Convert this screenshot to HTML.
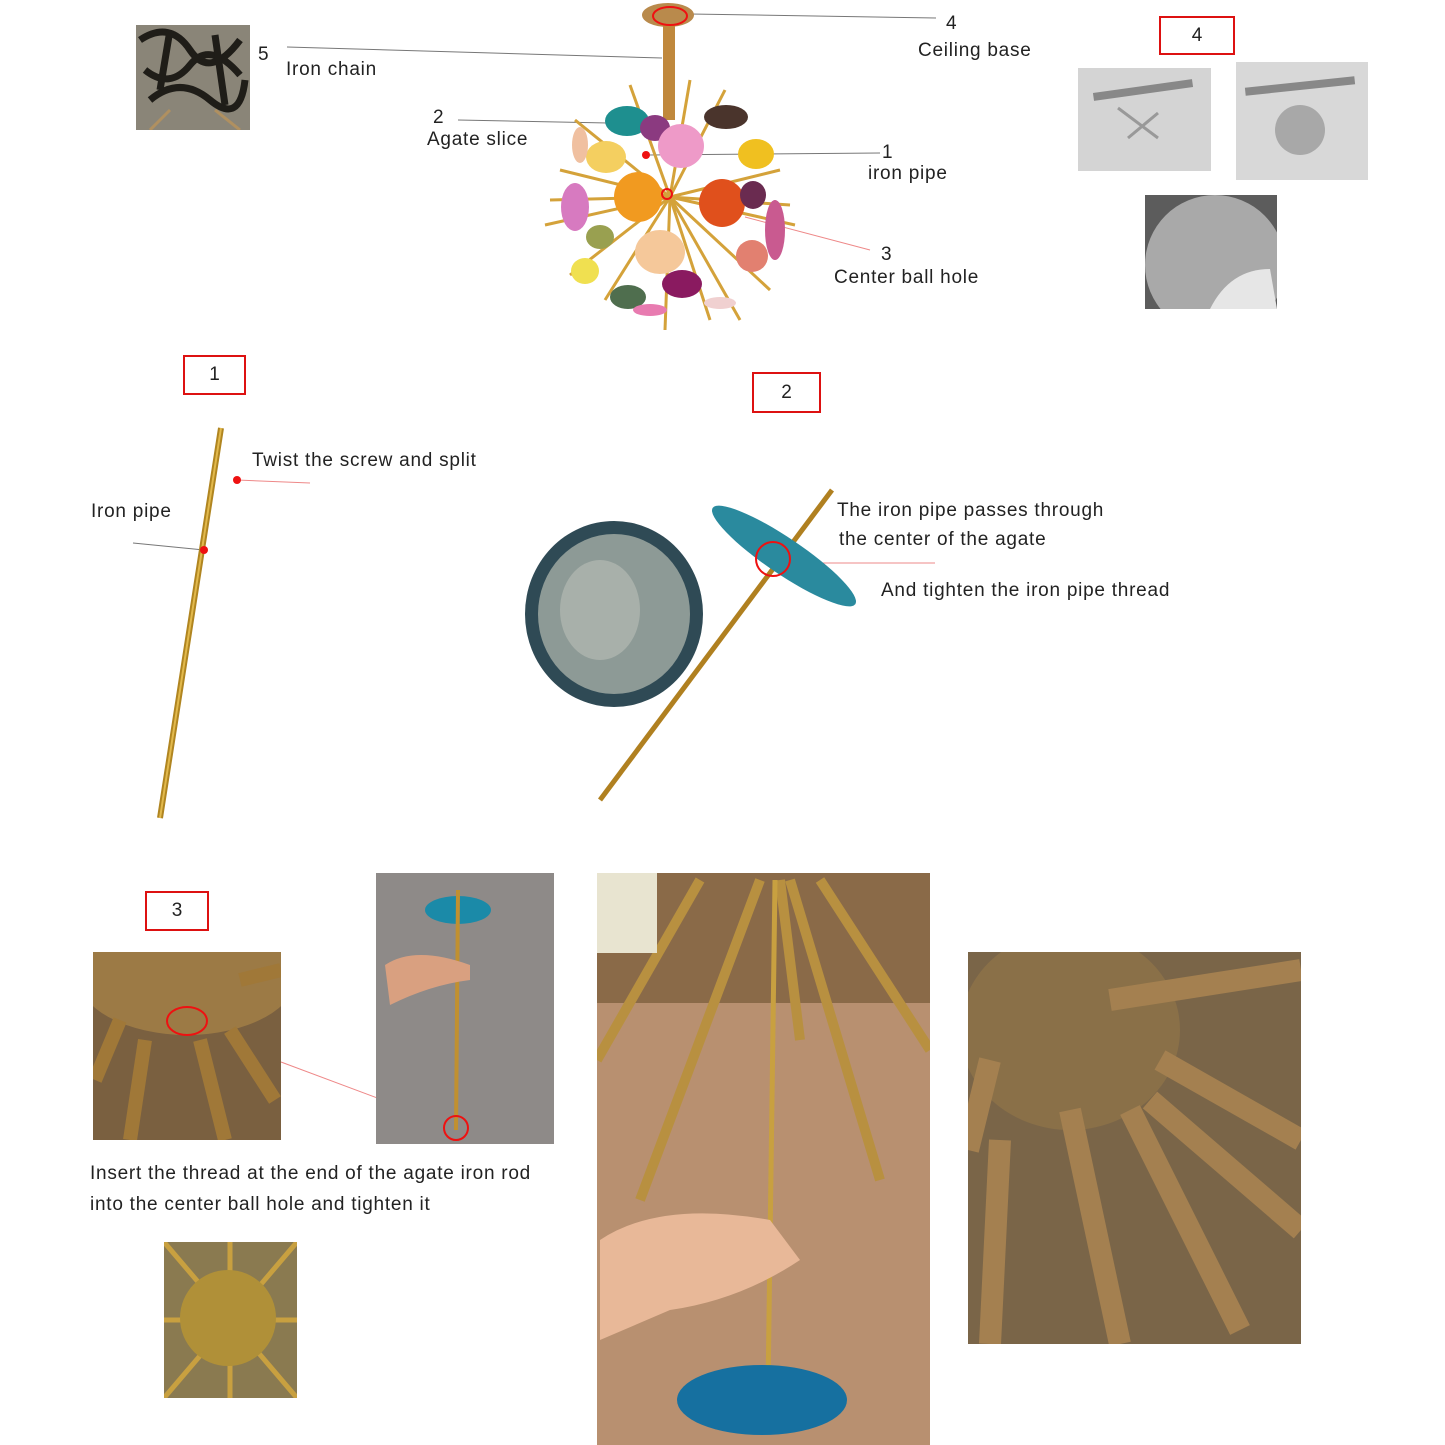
<!DOCTYPE html>
<html><head><meta charset="utf-8"><style>
html,body{margin:0;padding:0;background:#fff}
body{width:1445px;height:1445px;position:relative;overflow:hidden;font-family:"Liberation Sans",sans-serif;color:#222}
.t{position:absolute;font-size:19px;white-space:nowrap;line-height:1;letter-spacing:0.75px}
.box{position:absolute;border:2px solid #d11;font-size:19px;text-align:center;box-sizing:border-box;display:flex;align-items:center;justify-content:center}
svg svg{overflow:hidden}
</style></head><body>
<svg width="1445" height="1445" style="position:absolute;left:0;top:0">
<!-- chain photo -->
<svg x="136" y="25" width="114" height="105">
<rect width="114" height="105" fill="#8a8578"/>
<g stroke="#1f1d18" stroke-width="7" fill="none">
<path d="M4 15 q30 -20 50 10 t50 -10"/><path d="M9 45 q25 20 45 -5 t50 10"/><path d="M14 75 q30 -25 60 0 t35 -20"/><path d="M34 5 l-10 60"/><path d="M79 10 l10 70"/>
</g>
<g stroke="#b09060" stroke-width="3"><line x1="34" y1="85" x2="14" y2="105"/><line x1="79" y1="85" x2="104" y2="105"/></g>
</svg>
<!-- connector lines -->
<g stroke="#777" stroke-width="1">
<line x1="287" y1="47" x2="662" y2="58"/>
<line x1="458" y1="120" x2="608" y2="123"/>
<line x1="690" y1="14" x2="936" y2="18"/>
<line x1="648" y1="155" x2="880" y2="153"/>
<line x1="133" y1="543" x2="204" y2="550"/>
</g>
<g stroke="#e88" stroke-width="1">
<line x1="745" y1="217" x2="870" y2="250"/>
<line x1="237" y1="480" x2="310" y2="483"/>
<line x1="773" y1="563" x2="935" y2="563"/>
<line x1="281" y1="1062" x2="455" y2="1127"/>
</g>
<!-- chandelier -->
<ellipse cx="668" cy="15" rx="26" ry="12" fill="#b98a4c"/>
<rect x="663" y="25" width="12" height="95" fill="#c0883c"/>
<g stroke="#d4a23a" stroke-width="3">
<line x1="670" y1="197" x2="560" y2="170"/><line x1="670" y1="197" x2="780" y2="170"/><line x1="670" y1="197" x2="545" y2="225"/><line x1="670" y1="197" x2="795" y2="225"/>
<line x1="670" y1="197" x2="630" y2="85"/><line x1="670" y1="197" x2="725" y2="90"/><line x1="670" y1="197" x2="605" y2="300"/><line x1="670" y1="197" x2="740" y2="320"/>
<line x1="670" y1="197" x2="575" y2="120"/><line x1="670" y1="197" x2="770" y2="290"/><line x1="670" y1="197" x2="570" y2="275"/><line x1="670" y1="197" x2="665" y2="330"/>
<line x1="670" y1="197" x2="550" y2="200"/><line x1="670" y1="197" x2="790" y2="205"/><line x1="670" y1="197" x2="690" y2="80"/><line x1="670" y1="197" x2="710" y2="320"/>
</g>
<g>
<ellipse cx="627" cy="121" rx="22" ry="15" fill="#1e8f8f"/><ellipse cx="655" cy="128" rx="15" ry="13" fill="#8b3a80"/>
<ellipse cx="681" cy="146" rx="23" ry="22" fill="#ee9ac8"/><ellipse cx="726" cy="117" rx="22" ry="12" fill="#4a342c"/>
<ellipse cx="606" cy="157" rx="20" ry="16" fill="#f4cf60"/><ellipse cx="756" cy="154" rx="18" ry="15" fill="#f0c020"/>
<ellipse cx="638" cy="197" rx="24" ry="25" fill="#f19a20"/><ellipse cx="722" cy="203" rx="23" ry="24" fill="#e0501c"/>
<ellipse cx="753" cy="195" rx="13" ry="14" fill="#6a2b50"/><ellipse cx="575" cy="207" rx="14" ry="24" fill="#d77ac0"/>
<ellipse cx="775" cy="230" rx="10" ry="30" fill="#c95a90"/><ellipse cx="600" cy="237" rx="14" ry="12" fill="#99a050"/>
<ellipse cx="660" cy="252" rx="25" ry="22" fill="#f5c89a"/><ellipse cx="752" cy="256" rx="16" ry="16" fill="#e28070"/>
<ellipse cx="585" cy="271" rx="14" ry="13" fill="#f0e050"/><ellipse cx="682" cy="284" rx="20" ry="14" fill="#8a1a60"/>
<ellipse cx="628" cy="297" rx="18" ry="12" fill="#4f6e4e"/><ellipse cx="650" cy="310" rx="17" ry="6" fill="#e87bb0"/>
<ellipse cx="720" cy="303" rx="16" ry="6" fill="#f0d0d0"/><ellipse cx="580" cy="145" rx="8" ry="18" fill="#f0c0a0"/>
<circle cx="667" cy="194" r="5" fill="none" stroke="#e11" stroke-width="2"/><circle cx="646" cy="155" r="4" fill="#e11"/>
<ellipse cx="670" cy="16" rx="17" ry="9" fill="none" stroke="#e11" stroke-width="2"/>
</g>
<!-- section 4 photos -->
<svg x="1078" y="68" width="133" height="103"><rect width="133" height="103" fill="#d4d4d4"/>
<rect x="15" y="18" width="100" height="8" fill="#888" transform="rotate(-8 65 22)"/>
<g stroke="#999" stroke-width="3"><line x1="40" y1="40" x2="80" y2="70"/><line x1="50" y1="70" x2="80" y2="45"/></g></svg>
<svg x="1236" y="62" width="132" height="118"><rect width="132" height="118" fill="#d8d8d8"/>
<rect x="9" y="20" width="110" height="8" fill="#888" transform="rotate(-6 64 24)"/>
<circle cx="64" cy="68" r="25" fill="#a8a8a8"/></svg>
<svg x="1145" y="195" width="132" height="114"><rect width="132" height="114" fill="#5c5c5c"/>
<circle cx="70" cy="70" r="70" fill="#a9a9a9"/>
<path d="M65 114 q20 -40 60 -40 l7 40z" fill="#e6e6e6"/></svg>
<!-- pipe 1 -->
<line x1="221" y1="428" x2="160" y2="818" stroke="#b08520" stroke-width="6"/>
<line x1="221" y1="428" x2="160" y2="818" stroke="#e2b94c" stroke-width="2"/>
<circle cx="237" cy="480" r="4" fill="#e11"/><circle cx="204" cy="550" r="4" fill="#e11"/>
<!-- section 2 -->
<ellipse cx="614" cy="614" rx="89" ry="93" fill="#2f4a55"/>
<ellipse cx="614" cy="614" rx="76" ry="80" fill="#8d9a96"/>
<ellipse cx="600" cy="610" rx="40" ry="50" fill="#a8b0aa"/>
<line x1="832" y1="490" x2="600" y2="800" stroke="#b08020" stroke-width="5"/>
<ellipse cx="784" cy="556" rx="86" ry="18" transform="rotate(34 784 556)" fill="#2a8a9e"/>
<circle cx="773" cy="559" r="17" fill="none" stroke="#e11" stroke-width="2"/>
<!-- section 3 photos -->
<svg x="93" y="952" width="188" height="188"><rect width="188" height="188" fill="#7a6040"/>
<ellipse cx="94" cy="23" rx="110" ry="60" fill="#9c7a45"/>
<g stroke="#a07838" stroke-width="14"><line x1="52" y1="88" x2="37" y2="188"/><line x1="107" y1="88" x2="132" y2="188"/><line x1="137" y1="78" x2="182" y2="148"/><line x1="27" y1="68" x2="2" y2="128"/><line x1="147" y1="28" x2="188" y2="18"/></g>
<ellipse cx="94" cy="69" rx="20" ry="14" fill="none" stroke="#e11" stroke-width="2"/></svg>
<svg x="376" y="873" width="178" height="271"><rect width="178" height="271" fill="#8e8a88"/>
<ellipse cx="82" cy="37" rx="33" ry="14" fill="#1b8aa8"/>
<line x1="82" y1="17" x2="80" y2="257" stroke="#c09030" stroke-width="4"/>
<path d="M9 92 q30 -20 85 0 l0 15 q-40 5 -80 25z" fill="#d9a080"/>
<circle cx="80" cy="255" r="12" fill="none" stroke="#e11" stroke-width="2"/></svg>
<svg x="164" y="1242" width="133" height="156"><rect width="133" height="156" fill="#8a7a50"/>
<g stroke="#c8a040" stroke-width="5"><line x1="0" y1="0" x2="133" y2="156"/><line x1="133" y1="0" x2="0" y2="156"/><line x1="66" y1="0" x2="66" y2="156"/><line x1="0" y1="78" x2="133" y2="78"/></g>
<circle cx="64" cy="76" r="48" fill="#b09038"/></svg>
<svg x="597" y="873" width="333" height="572"><rect width="333" height="572" fill="#b89070"/>
<rect width="333" height="130" fill="#8a6a48"/>
<g stroke="#b89040" stroke-width="10"><line x1="163" y1="7" x2="43" y2="327"/><line x1="193" y1="7" x2="283" y2="307"/><line x1="103" y1="7" x2="0" y2="187"/><line x1="223" y1="7" x2="333" y2="177"/><line x1="183" y1="7" x2="203" y2="167"/></g>
<line x1="178" y1="7" x2="171" y2="517" stroke="#c8a040" stroke-width="5"/>
<path d="M3 367 q60 -40 170 -20 l30 40 q-60 40 -130 50 l-70 30z" fill="#e8b898"/>
<ellipse cx="165" cy="527" rx="85" ry="35" fill="#1670a0"/>
<rect width="60" height="80" fill="#e8e4d0"/></svg>
<svg x="968" y="952" width="333" height="392"><rect width="333" height="392" fill="#7a6548"/>
<ellipse cx="102" cy="78" rx="110" ry="100" fill="#8a7048"/>
<g stroke="#a48050" stroke-width="22"><line x1="32" y1="188" x2="22" y2="392"/><line x1="102" y1="158" x2="152" y2="392"/><line x1="162" y1="158" x2="272" y2="378"/><line x1="192" y1="108" x2="333" y2="188"/><line x1="142" y1="48" x2="333" y2="18"/><line x1="182" y1="148" x2="333" y2="278"/><line x1="22" y1="108" x2="0" y2="198"/></g></svg>
</svg>
<div class="t" style="left:258px;top:45px">5</div>
<div class="t" style="left:286px;top:60px">Iron chain</div>
<div class="t" style="left:433px;top:108px">2</div>
<div class="t" style="left:427px;top:130px">Agate slice</div>
<div class="t" style="left:946px;top:14px">4</div>
<div class="t" style="left:918px;top:41px">Ceiling base</div>
<div class="t" style="left:882px;top:143px">1</div>
<div class="t" style="left:868px;top:164px">iron pipe</div>
<div class="t" style="left:881px;top:245px">3</div>
<div class="t" style="left:834px;top:268px">Center ball hole</div>
<div class="box" style="left:1159px;top:16px;width:76px;height:39px">4</div>
<div class="box" style="left:183px;top:355px;width:63px;height:40px">1</div>
<div class="t" style="left:252px;top:451px">Twist the screw and split</div>
<div class="t" style="left:91px;top:502px">Iron pipe</div>
<div class="box" style="left:752px;top:372px;width:69px;height:41px">2</div>
<div class="t" style="left:837px;top:501px">The iron pipe passes through</div>
<div class="t" style="left:839px;top:530px">the center of the agate</div>
<div class="t" style="left:881px;top:581px">And tighten the iron pipe thread</div>
<div class="box" style="left:145px;top:891px;width:64px;height:40px">3</div>
<div class="t" style="left:90px;top:1164px">Insert the thread at the end of the agate iron rod</div>
<div class="t" style="left:90px;top:1195px">into the center ball hole and tighten it</div>
</body></html>
